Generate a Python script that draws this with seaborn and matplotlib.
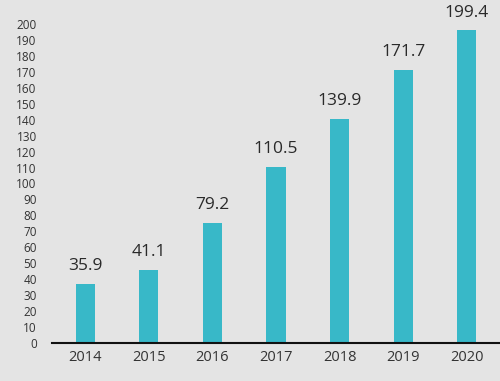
import matplotlib
matplotlib.use("Agg")
import matplotlib.pyplot as plt
import seaborn as sns
import pandas as pd

years = ["2014", "2015", "2016", "2017", "2018", "2019", "2020"]
bar_heights = [37, 46, 75.5, 110.5, 140.5, 171, 196]
bar_labels = ["35.9", "41.1", "79.2", "110.5", "139.9", "171.7", "199.4"]
yticks = list(range(0, 201, 10))

sns.set_theme(style="white")
plt.rcParams['font.family'] = ['Open Sans', 'DejaVu Sans']

bg = "#e4e4e4"
fig = plt.figure(figsize=(5, 3.81), dpi=100, facecolor=bg)
ax = fig.add_axes([0.104, 0.0997, 0.896, 0.8375])
ax.set_facecolor(bg)

df = pd.DataFrame({"year": years, "value": bar_heights})
sns.barplot(data=df, x="year", y="value", color="#38b8c8", saturation=1,
            width=0.3, linewidth=0, ax=ax)

for i, (h, lab) in enumerate(zip(bar_heights, bar_labels)):
    ax.annotate(lab, (i, h), xytext=(0, 7), textcoords="offset points",
                ha="center", va="bottom", fontsize=12.5, color="#2a2a2a",
                annotation_clip=False)

ax.set_xlim(-0.52, 6.52)
ax.set_ylim(0, 200)
ax.set_yticks(yticks)
ax.set_yticklabels([str(t) for t in yticks], fontsize=8.5, color="#333333")
ax.tick_params(axis="y", length=0, pad=11)
ax.tick_params(axis="x", length=0, pad=5, labelsize=10.5, labelcolor="#333333")
ax.set_xlabel("")
ax.set_ylabel("")
for s in ["top", "right", "left"]:
    ax.spines[s].set_visible(False)
ax.spines["bottom"].set_color("#111111")
ax.spines["bottom"].set_linewidth(1.5)

fig.savefig("out.png", dpi=100, facecolor=bg)
